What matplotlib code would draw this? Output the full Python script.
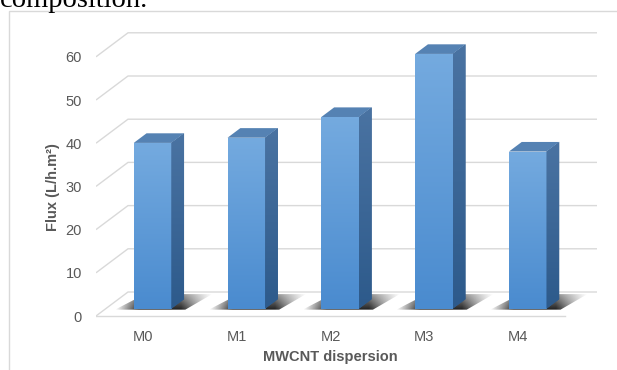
import numpy as np
import matplotlib
matplotlib.use("Agg")
import matplotlib.pyplot as plt
from matplotlib.patches import Polygon, Rectangle
from matplotlib.colors import to_rgb

# ---- data -------------------------------------------------------------
categories = ["M0", "M1", "M2", "M3", "M4"]
flux = [38.4, 39.6, 44.4, 59.0, 36.4]
y_ticks = [0, 10, 20, 30, 40, 50, 60]
x_label = "MWCNT dispersion"
y_label = "Flux (L/h.m²)"

# ---- styling ----------------------------------------------------------
FRONT_TOP, FRONT_BOT = "#74aadf", "#4a8bcf"
TOP_FACE = "#5582b3"
SIDE_TOP, SIDE_BOT = "#4a73a2", "#2d5a8b"
GRID = "#d9d9d9"
TEXT = "#595959"

plt.rcParams["font.family"] = ["Liberation Sans", "DejaVu Sans"]

# ---- oblique 3-D layout (pixel geometry of the canvas) ----------------
W, H = 617, 370
CAT_PX, FLUX_PX = 93.8, 4.32        # pixels per category / per flux unit
X0_PX, Y0_PX = 96, 316              # front-left corner of the floor
XLIM, YLIM = (-0.5, 5.0), (-2, 66)
DX = 32 / CAT_PX                     # receding depth offset (category units)
DY = 24 / FLUX_PX                    # receding depth offset (flux units)
BAR_W = 0.4
D_FRONT, D_BACK = 0.3, 0.7           # bar placement along the depth axis

fig = plt.figure(figsize=(W / 100, H / 100), dpi=100)
left_px = X0_PX + (XLIM[0] + 0.5) * CAT_PX
right_px = X0_PX + (XLIM[1] + 0.5) * CAT_PX
top_px = Y0_PX - YLIM[1] * FLUX_PX
bot_px = Y0_PX - YLIM[0] * FLUX_PX
ax = fig.add_axes([left_px / W, 1 - bot_px / H,
                   (right_px - left_px) / W, (bot_px - top_px) / H])


def vertical_gradient(patch, c_top, c_bot, extent, zorder):
    t = np.linspace(0, 1, 64)[:, None, None]
    ct, cb = np.array(to_rgb(c_top)), np.array(to_rgb(c_bot))
    img = cb + (ct - cb) * t
    im = ax.imshow(img, extent=extent, origin="lower", aspect="auto",
                   interpolation="bilinear", zorder=zorder)
    im.set_clip_path(patch)


# gridlines: left wall diagonal + back wall horizontal
n = len(categories)
for v in y_ticks:
    ax.plot([-0.5, -0.5 + DX, n - 0.5 + DX], [v, v + DY, v + DY],
            color=GRID, lw=1.0, zorder=1, solid_capstyle="butt")
ax.plot([-0.5, n - 0.5], [0, 0], color=GRID, lw=1.0, zorder=1)

# bars
x_pos = np.arange(n)
b0 = D_FRONT * DY
depth = D_BACK - D_FRONT
x_front = x_pos + D_FRONT * DX
bars = ax.bar(x_front, flux, width=BAR_W, bottom=b0, color=FRONT_BOT,
              linewidth=0, zorder=4)

for rect, v in zip(bars, flux):
    xl = rect.get_x()
    xr = xl + rect.get_width()
    top = b0 + v
    ddx, ddy = depth * DX, depth * DY

    # soft floor shadow
    sx0, sx1 = xl - 0.2, xr + ddx + 0.3
    sy0, sy1 = b0 - 0.2, b0 + 3.4
    shadow = Polygon([(sx0, sy0), (xr + 0.15, sy0), (sx1, sy1),
                      (xl + 0.12, sy1)],
                     closed=True, facecolor="none", edgecolor="none", zorder=2)
    ax.add_patch(shadow)
    xs = np.linspace(sx0, sx1, 160)
    a_left = np.clip((xs - sx0) / (xl + 0.05 - sx0), 0, 1)
    a_right = np.clip((sx1 - xs) / (sx1 - (xr + 0.1)), 0, 1)
    alpha_x = np.minimum(a_left, a_right) ** 1.1
    ys = np.linspace(0, 1, 40)
    alpha_y = 1 - 0.5 * ys
    rgba = np.zeros((40, 160, 4))
    rgba[..., :3] = 0.08
    rgba[..., 3] = 0.95 * alpha_y[:, None] * alpha_x[None, :]
    im = ax.imshow(rgba, extent=(sx0, sx1, sy0, sy1),
                   origin="lower", aspect="auto", interpolation="bilinear",
                   zorder=2)
    im.set_clip_path(shadow)

    # front face shading
    vertical_gradient(rect, FRONT_TOP, FRONT_BOT, (xl, xr, b0, top), 4.5)

    # side face
    side = Polygon([(xr, b0), (xr, top), (xr + ddx, top + ddy),
                    (xr + ddx, b0 + ddy)], closed=True,
                   facecolor=SIDE_BOT, edgecolor="none", zorder=4)
    ax.add_patch(side)
    vertical_gradient(side, SIDE_TOP, SIDE_BOT,
                      (xr, xr + ddx, b0, top + ddy), 4.5)

    # top face
    ax.add_patch(Polygon([(xl, top), (xr, top), (xr + ddx, top + ddy),
                          (xl + ddx, top + ddy)], closed=True,
                         facecolor=TOP_FACE, edgecolor="none", zorder=5))

# axes, ticks and labels
ax.set_xlim(*XLIM)
ax.set_ylim(*YLIM)
for s in ax.spines.values():
    s.set_visible(False)
ax.set_xticks(x_pos, categories)
ax.set_yticks(y_ticks)
ax.tick_params(axis="both", length=0, colors=TEXT, labelsize=10.5)
ax.tick_params(axis="y", pad=10)
ax.tick_params(axis="x", pad=3.5)
ax.set_facecolor("none")

ax.set_ylabel(y_label, fontsize=10.5, fontweight="bold", color=TEXT)
ax.yaxis.set_label_coords((60 - left_px) / (right_px - left_px),
                          (bot_px - 187.5) / (bot_px - top_px))
ax.set_xlabel(x_label, fontsize=10.5, fontweight="bold", color=TEXT)
ax.xaxis.set_label_coords((2 - XLIM[0]) / (XLIM[1] - XLIM[0]),
                          (bot_px - 350.5) / (bot_px - top_px))

# chart frame and the caption line above it
fig.patches.append(Rectangle((9 / W, -0.1), 1.2, 1.1 - 11 / H,
                             transform=fig.transFigure, fill=False,
                             edgecolor="#d9d9d9", lw=1.0))
fig.text(0.0, 1 - 7 / H, "composition.", family="Liberation Serif",
         fontsize=20.5, ha="left", va="baseline", color="black")

fig.savefig("out.png", dpi=100)
